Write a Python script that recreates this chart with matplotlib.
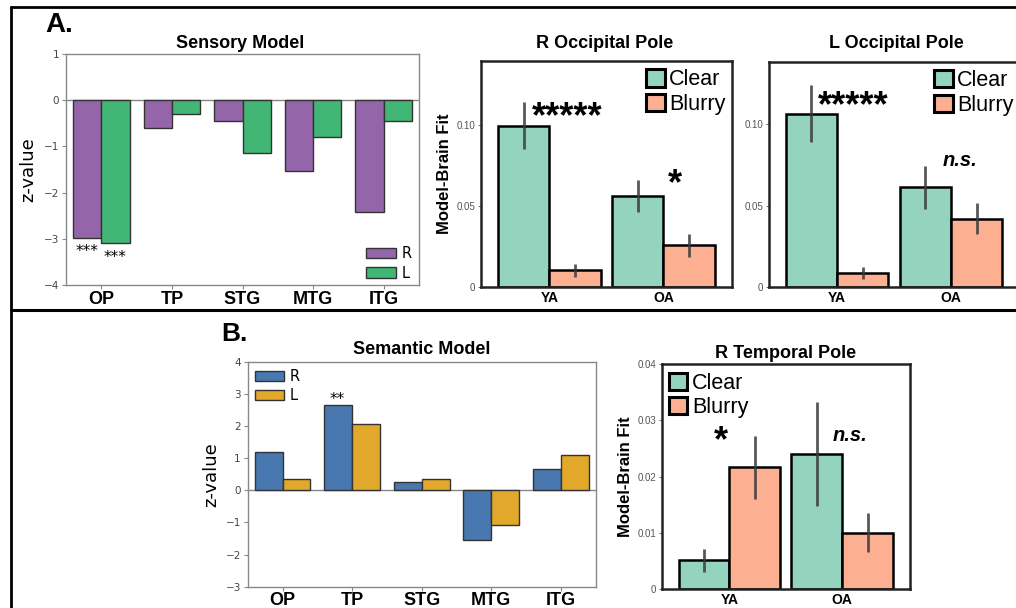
import matplotlib
matplotlib.use("Agg")
import matplotlib.pyplot as plt
import numpy as np
from matplotlib.patches import Patch
from matplotlib.lines import Line2D

# ---------------- data ----------------
regions = ['OP', 'TP', 'STG', 'MTG', 'ITG']
sensory_R = [-2.98, -0.61, -0.45, -1.54, -2.43]
sensory_L = [-3.10, -0.30, -1.15, -0.80, -0.46]
semantic_R = [1.19, 2.64, 0.25, -1.56, 0.66]
semantic_L = [0.34, 2.06, 0.34, -1.07, 1.09]

groups = ['YA', 'OA']
conditions = ['Clear', 'Blurry']

rocc_clear = [0.0992, 0.0562]
rocc_clear_lo = [0.0848, 0.0459]
rocc_clear_hi = [0.1142, 0.0659]
rocc_blurry = [0.0103, 0.0255]
rocc_blurry_lo = [0.0062, 0.0185]
rocc_blurry_hi = [0.0142, 0.0323]

locc_clear = [0.1065, 0.0613]
locc_clear_lo = [0.0890, 0.0482]
locc_clear_hi = [0.1241, 0.0744]
locc_blurry = [0.0086, 0.0421]
locc_blurry_lo = [0.0051, 0.0325]
locc_blurry_hi = [0.0126, 0.0519]

rtp_clear = [0.0052, 0.0241]
rtp_clear_lo = [0.0030, 0.0148]
rtp_clear_hi = [0.0071, 0.0332]
rtp_blurry = [0.0218, 0.0100]
rtp_blurry_lo = [0.0161, 0.0065]
rtp_blurry_hi = [0.0272, 0.0135]

# ---------------- style ----------------
W, H = 1016, 608
fig = plt.figure(figsize=(W / 100, H / 100), dpi=100)
ARIAL = 'Liberation Sans'
DEJA = 'DejaVu Sans'

C_PURPLE = '#9565aa'
C_GREEN = '#41b675'
C_BLUE = '#4878af'
C_GOLD = '#e2a82b'
C_CLEAR = '#94d4bf'
C_BLURRY = '#fcaf91'
ERRC = '#3a3a3a'


def ax_px(l, t, r, b):
    return fig.add_axes([l / W, 1 - b / H, (r - l) / W, (b - t) / H])


def ftext(xp, yp, s, **kw):
    fig.text(xp / W, 1 - yp / H, s, **kw)


def zplot(ax, rv, lv, cR, cL, ylim, legloc, bbox):
    x = np.arange(len(regions))
    w = 0.4
    ax.bar(x - w / 2, rv, w, color=cR, edgecolor='#333333', linewidth=1.0, label='R', zorder=2)
    ax.bar(x + w / 2, lv, w, color=cL, edgecolor='#333333', linewidth=1.0, label='L', zorder=2)
    ax.axhline(0, color='#888888', lw=1.0, zorder=1)
    ax.set_xlim(-0.5, len(regions) - 0.5)
    ax.set_ylim(*ylim)
    ax.set_xticks(x)
    ax.set_xticklabels(regions, fontfamily=ARIAL, fontweight='bold', fontsize=13)
    ax.set_yticks(np.arange(ylim[0], ylim[1] + 1))
    for lab in ax.get_yticklabels():
        lab.set_fontfamily(DEJA)
        lab.set_fontsize(7.5)
        lab.set_color('#444444')
    ax.tick_params(axis='x', length=3, width=0.8, color='#888888', pad=1)
    ax.tick_params(axis='y', length=3, width=0.8, color='#888888', pad=2)
    for sp in ax.spines.values():
        sp.set_color('#888888')
        sp.set_linewidth(1.0)
    ax.set_ylabel('z-value', fontfamily=DEJA, fontsize=13)
    leg = ax.legend(loc=legloc, bbox_to_anchor=bbox, frameon=False, fontsize=10.5,
                    handlelength=2.0, handleheight=0.7, handletextpad=0.4,
                    labelspacing=0.3, borderaxespad=0, borderpad=0)
    return leg


def fitplot(ax, clear, clo, chi, blurry, blo, bhi, ylim, yticks, yticklabels, legloc, bbox):
    x = np.arange(len(groups))
    w = 0.45
    ax.bar(x - w / 2, clear, w, color=C_CLEAR, edgecolor='black', linewidth=1.8, zorder=2)
    ax.bar(x + w / 2, blurry, w, color=C_BLURRY, edgecolor='black', linewidth=1.8, zorder=2)
    ax.vlines(x - w / 2, clo, chi, color=ERRC, lw=2.0, alpha=0.85, zorder=3)
    ax.vlines(x + w / 2, blo, bhi, color=ERRC, lw=2.0, alpha=0.85, zorder=3)
    ax.set_xlim(-0.6, 1.6)
    ax.set_ylim(*ylim)
    ax.set_xticks(x)
    ax.set_xticklabels(groups, fontfamily=ARIAL, fontweight='bold', fontsize=10)
    ax.set_yticks(yticks)
    ax.set_yticklabels(yticklabels, fontfamily=ARIAL, fontsize=7, color='#555555')
    ax.tick_params(axis='x', length=0, pad=3)
    ax.tick_params(axis='y', length=2, width=0.6, color='#555555', pad=2)
    for sp in ax.spines.values():
        sp.set_color('#222222')
        sp.set_linewidth(1.8)
    handles = [Patch(facecolor=C_CLEAR, edgecolor='black', linewidth=2.2, label='Clear'),
               Patch(facecolor=C_BLURRY, edgecolor='black', linewidth=2.2, label='Blurry')]
    ax.legend(handles=handles, loc=legloc, bbox_to_anchor=bbox, frameon=False,
              prop={'family': ARIAL, 'size': 15.5}, handlelength=0.85, handleheight=0.85,
              handletextpad=0.2, labelspacing=0.16, borderaxespad=0, borderpad=0)


# ---------------- Panel A ----------------
ax1 = ax_px(66, 54, 419, 285)
zplot(ax1, sensory_R, sensory_L, C_PURPLE, C_GREEN, (-4, 1), 'lower right', (0.979, 0.019))
ax1.yaxis.set_label_coords(-0.082, 0.5)
ax1.text(-0.2, -3.38, '***', ha='center', va='baseline', fontfamily=DEJA, fontsize=11)
ax1.text(0.2, -3.51, '***', ha='center', va='baseline', fontfamily=DEJA, fontsize=11)
ftext(240.5, 43, 'Sensory Model', ha='center', va='center', fontfamily=ARIAL, fontweight='bold', fontsize=13)

ax2 = ax_px(481, 61, 731.7, 286.7)
fitplot(ax2, rocc_clear, rocc_clear_lo, rocc_clear_hi, rocc_blurry, rocc_blurry_lo, rocc_blurry_hi,
        (0, 0.1393), [0, 0.05, 0.10], ['0', '0.05', '0.10'], 'upper right', (0.975, 0.963))
ax2.set_ylabel('Model-Brain Fit', fontfamily=ARIAL, fontweight='bold', fontsize=12)
ax2.yaxis.set_label_coords(-0.1157, 0.5)
ax2.text(0.16, 0.0985, '*****', ha='center', va='baseline', fontfamily=ARIAL, fontweight='bold', fontsize=26)
ax2.text(1.105, 0.0570, '*', ha='center', va='baseline', fontfamily=ARIAL, fontweight='bold', fontsize=26)
ftext(605, 44, 'R Occipital Pole', ha='center', va='center', fontfamily=ARIAL, fontweight='bold', fontsize=13)

ax3 = ax_px(768.5, 61.7, 1019.5, 287.3)
fitplot(ax3, locc_clear, locc_clear_lo, locc_clear_hi, locc_blurry, locc_blurry_lo, locc_blurry_hi,
        (0, 0.1384), [0, 0.05, 0.10], ['0', '0.05', '0.10'], 'upper right', (0.975, 0.963))
ax3.text(0.143, 0.1047, '*****', ha='center', va='baseline', fontfamily=ARIAL, fontweight='bold', fontsize=26)
ax3.text(1.077, 0.0744, 'n.s.', ha='center', va='baseline', fontfamily=ARIAL, fontweight='bold',
         fontstyle='italic', fontsize=14.5)
ftext(896, 44, 'L Occipital Pole', ha='center', va='center', fontfamily=ARIAL, fontweight='bold', fontsize=13)

# ---------------- Panel B ----------------
ax4 = ax_px(247.7, 361.7, 595.7, 586.7)
zplot(ax4, semantic_R, semantic_L, C_BLUE, C_GOLD, (-3, 4), 'upper left', (0.021, 0.968))
ax4.yaxis.set_label_coords(-0.0796, 0.5)
ax4.text(0.78, 2.68, '**', ha='center', va='baseline', fontfamily=DEJA, fontsize=11)
ftext(421.7, 350, 'Semantic Model', ha='center', va='center', fontfamily=ARIAL, fontweight='bold', fontsize=13)

ax5 = ax_px(661.7, 364.3, 910, 589)
fitplot(ax5, rtp_clear, rtp_clear_lo, rtp_clear_hi, rtp_blurry, rtp_blurry_lo, rtp_blurry_hi,
        (0, 0.04), [0, 0.01, 0.02, 0.03, 0.04], ['0', '0.01', '0.02', '0.03', '0.04'],
        'upper left', (0.03, 0.962))
ax5.set_ylabel('Model-Brain Fit', fontfamily=ARIAL, fontweight='bold', fontsize=12)
ax5.yaxis.set_label_coords(-0.1156, 0.5)
ax5.text(-0.077, 0.0246, '*', ha='center', va='baseline', fontfamily=ARIAL, fontweight='bold', fontsize=26)
ax5.text(1.068, 0.0264, 'n.s.', ha='center', va='baseline', fontfamily=ARIAL, fontweight='bold',
         fontstyle='italic', fontsize=14.5)
ftext(786, 353.3, 'R Temporal Pole', ha='center', va='center', fontfamily=ARIAL, fontweight='bold', fontsize=13)

# ---------------- panel letters & frame ----------------
ftext(45, 32, 'A.', ha='left', va='baseline', fontfamily=ARIAL, fontweight='bold', fontsize=20)
ftext(221.5, 341, 'B.', ha='left', va='baseline', fontfamily=ARIAL, fontweight='bold', fontsize=19)


def fline(x0, y0, x1, y1, lw):
    fig.add_artist(Line2D([x0 / W, x1 / W], [1 - y0 / H, 1 - y1 / H], color='black', lw=lw,
                          solid_capstyle='butt'))


fline(10, 6.5, W, 6.5, 2.0)
fline(11, 6, 11, H, 2.0)
fline(10, 309.5, W, 309.5, 2.2)

fig.savefig('out.png', dpi=100)
